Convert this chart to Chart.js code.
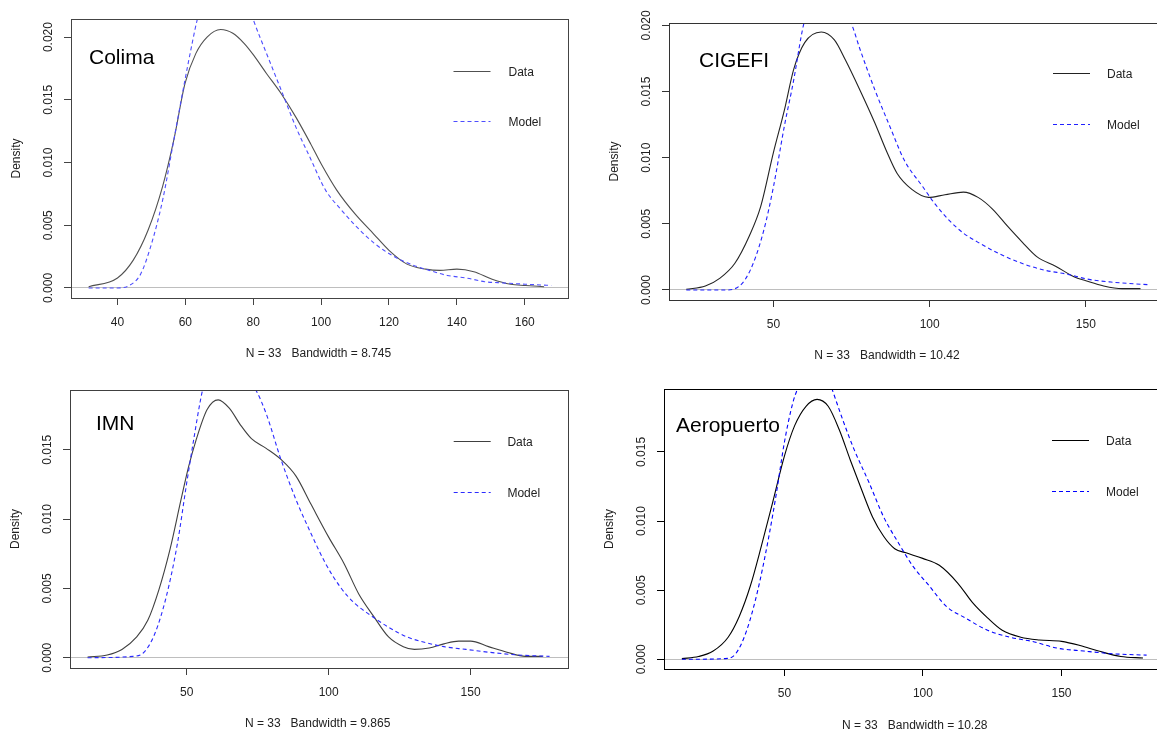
<!DOCTYPE html>
<html>
<head>
<meta charset="utf-8">
<script src="https://cdn.jsdelivr.net/npm/chart.js@4.4.1/dist/chart.umd.min.js"></script>
<style>
  html, body { margin: 0; padding: 0; background: #fff; overflow: hidden; }
  body { width: 1157px; height: 732px; position: relative; }
  canvas { position: absolute; }
</style>
</head>
<body>
<script>
// Colima
var colimaDataX = [31.5, 40, 44.6, 49, 53.3, 56.6, 59.9, 63.1, 66.4, 70.4, 74, 77.3, 80, 83.9, 88.2, 92.6, 96.9, 100, 104.6, 110, 115.5, 120, 125.3, 130.8, 135, 140, 145, 150.4, 155.8, 160.2, 165.7];
var colimaDataY = [0.0001, 0.0008, 0.0022, 0.0046, 0.0081, 0.0118, 0.0163, 0.0187, 0.0200, 0.0206, 0.0203, 0.0195, 0.0186, 0.0171, 0.0155, 0.0136, 0.0115, 0.0099, 0.0078, 0.0059, 0.0043, 0.0030, 0.0019, 0.0015, 0.0014, 0.0015, 0.0013, 0.0007, 0.0003, 0.0002, 0.0001];
var colimaModelX = [31.5, 40, 43.5, 46.8, 50, 53.3, 56.6, 59.9, 62, 63.5, 66, 70, 74, 77.5, 80, 83.9, 88.2, 92.6, 96.9, 101.3, 105.7, 110, 115.5, 120.9, 126.3, 131.9, 137.2, 142.7, 148.2, 153.6, 160.2, 167.8];
var colimaModelY = [0, 0, 0.0002, 0.0011, 0.0035, 0.0070, 0.0118, 0.0166, 0.0195, 0.0214, 0.0238, 0.0256, 0.0255, 0.0235, 0.0214, 0.0187, 0.0158, 0.0128, 0.0103, 0.0078, 0.0063, 0.0050, 0.0036, 0.0026, 0.0019, 0.0014, 0.0010, 0.0008, 0.0005, 0.0004, 0.0003, 0.0002];

// CIGEFI
var cigefiDataX = [22.1, 28.2, 32.9, 37.6, 42.3, 45.9, 50, 53.5, 56.5, 60, 65.3, 69.5, 73, 77.7, 82.5, 86, 89.6, 94.3, 99.6, 104.9, 110.8, 115.5, 120.2, 125, 129.7, 134.4, 140.3, 146.2, 150, 155.7, 161.6, 167.5];
var cigefiDataY = [0.00005, 0.0003, 0.0009, 0.0020, 0.0041, 0.0063, 0.0104, 0.0136, 0.0167, 0.0187, 0.0195, 0.0189, 0.0174, 0.0151, 0.0126, 0.0106, 0.0088, 0.0076, 0.0070, 0.0072, 0.0074, 0.0070, 0.0061, 0.0048, 0.0036, 0.0025, 0.0018, 0.0010, 0.0007, 0.0003, 0.0001, 0.0001];
var cigefiModelX = [22.1, 35.2, 40, 43.5, 47, 50, 53.5, 56.5, 58.9, 59.8, 62, 66, 70, 74.8, 77.7, 82.5, 87.2, 91.9, 97.8, 101.4, 106.1, 110.8, 115.5, 122.6, 129.7, 136.8, 143.9, 151, 158, 169.8];
var cigefiModelY = [0, 0, 0.0005, 0.0020, 0.0046, 0.0078, 0.0124, 0.0159, 0.0192, 0.0202, 0.0216, 0.0226, 0.0218, 0.0202, 0.0182, 0.0151, 0.0124, 0.0098, 0.0078, 0.0066, 0.0053, 0.0043, 0.0036, 0.0027, 0.0020, 0.0015, 0.0012, 0.0008, 0.0006, 0.0004];

// IMN
var imnDataX = [15.1, 22, 27.2, 32.4, 36.3, 40.2, 44.1, 48, 50.7, 53.3, 57.2, 61.1, 65, 68.9, 72.8, 78, 83.2, 88.5, 93.7, 100, 105.4, 110.6, 115.8, 121.1, 126.3, 130.2, 135.4, 140.6, 145.8, 150, 156.3, 162.8, 169.3, 175.4];
var imnDataY = [0.00005, 0.0002, 0.0006, 0.0015, 0.0027, 0.0049, 0.0078, 0.0114, 0.0138, 0.0157, 0.0179, 0.0186, 0.0180, 0.0168, 0.0158, 0.0151, 0.0143, 0.0131, 0.0111, 0.0087, 0.0068, 0.0046, 0.0030, 0.0015, 0.0008, 0.0006, 0.0007, 0.0010, 0.0012, 0.0012, 0.0008, 0.0004, 0.0001, 0.0001];
var imnModelX = [15.1, 31.1, 35, 38.9, 42.8, 46.7, 50, 52.6, 54.6, 55.6, 59, 64, 69, 74.4, 78, 83.2, 88.5, 93.7, 98.9, 104.1, 109.3, 114.5, 121.1, 127.6, 134.1, 140.6, 148.4, 156.3, 166.7, 177.8];
var imnModelY = [0, 0.0001, 0.0004, 0.0018, 0.0044, 0.0082, 0.0126, 0.0159, 0.0183, 0.0193, 0.0208, 0.0216, 0.0209, 0.0193, 0.0176, 0.0143, 0.0114, 0.0090, 0.0068, 0.0051, 0.0039, 0.0031, 0.0022, 0.0015, 0.0011, 0.0008, 0.0006, 0.0004, 0.0002, 0.0001];

// Aeropuerto
var aeroDataX = [13, 19, 24.3, 29.7, 33.7, 37.7, 41.7, 45.7, 50, 53.7, 57.8, 61.8, 65.8, 69.8, 73.8, 77.8, 81.8, 85.8, 89.8, 93.9, 99.9, 105.9, 112.6, 117.9, 123.3, 128.6, 135.3, 142, 150, 156.7, 163.4, 171.4, 179.4];
var aeroDataY = [0.00005, 0.0002, 0.0006, 0.0016, 0.0031, 0.0053, 0.0082, 0.0113, 0.0147, 0.0169, 0.0183, 0.0188, 0.0183, 0.0166, 0.0144, 0.0123, 0.0103, 0.0089, 0.0080, 0.0077, 0.0073, 0.0068, 0.0055, 0.0041, 0.0030, 0.0021, 0.0016, 0.0014, 0.0013, 0.0010, 0.0006, 0.0002, 0.0001];
var aeroModelX = [13, 28.3, 32.4, 36.4, 40.4, 44.4, 47.1, 50, 53.1, 54.8, 57.5, 61, 64.5, 67.1, 71.1, 75.1, 80.5, 85.8, 91.2, 96.5, 101.9, 108.6, 115.2, 123.3, 131.3, 139.3, 148.7, 158, 168.7, 180.7];
var aeroModelY = [0, 0.00005, 0.0004, 0.0021, 0.0050, 0.0089, 0.0120, 0.0157, 0.0186, 0.0196, 0.0210, 0.0217, 0.0211, 0.0196, 0.0173, 0.0152, 0.0128, 0.0103, 0.0084, 0.0067, 0.0054, 0.0038, 0.0030, 0.0021, 0.0016, 0.0013, 0.0008, 0.0006, 0.0004, 0.0003];

var ticks40 = [40, 60, 80, 100, 120, 140, 160];
var ticks50 = [50, 100, 150];
var yTicks20 = [0, 0.005, 0.010, 0.015, 0.020];
var yTicks15 = [0, 0.005, 0.010, 0.015];

var FONT = '"Liberation Sans", Arial, sans-serif';
Chart.defaults.font.family = FONT;
Chart.defaults.font.size = 12;
Chart.defaults.color = '#222';

function pts(xs, ys) {
    return xs.map(function (x, i) { return { x: x, y: ys[i] }; });
}

// box, axis frame and the texts that R puts inside the plot
var rFrame = {
    id: 'rFrame',
    afterDraw: function (chart, args, o) {
        var ctx = chart.ctx, a = chart.chartArea;
        ctx.save();
        ctx.strokeStyle = o.axisColor;
        ctx.lineWidth = 1;
        ctx.strokeRect(Math.round(a.left) + 0.5, Math.round(a.top) + 0.5,
            Math.round(a.right - a.left), Math.round(a.bottom - a.top));

        ctx.fillStyle = '#000';
        ctx.textBaseline = 'middle';
        ctx.textAlign = 'left';
        ctx.font = '21px ' + FONT;
        ctx.fillText(o.name, a.left + o.nameX, a.top + o.nameY);

        ctx.font = '12px ' + FONT;
        ctx.fillStyle = '#222';
        var sets = chart.data.datasets;
        var rows = [o.row1, o.row2];
        for (var i = 0; i < 2; i++) {
            var ds = sets[i];
            var y = Math.round(a.top + rows[i]) + 0.5;
            ctx.strokeStyle = ds.borderColor;
            ctx.lineWidth = 1.1;
            ctx.setLineDash(ds.borderDash || []);
            ctx.beginPath();
            ctx.moveTo(a.left + o.lineX, y);
            ctx.lineTo(a.left + o.lineX + 37, y);
            ctx.stroke();
            ctx.fillText(ds.label, a.left + o.textX, y + 1);
        }
        ctx.setLineDash([]);
        ctx.textAlign = 'center';
        ctx.fillText(o.note, a.left + o.noteX, a.bottom + o.noteY);
        ctx.restore();
    }
};

function makePanel(p) {
    var padL = 70, padT = 19, padR = 4, axisH = 64;
    var cv = document.createElement('canvas');
    var w = padL + (p.box.r - p.box.l) + padR;
    var h = padT + (p.box.b - p.box.t) + axisH;
    cv.width = w; cv.height = h;
    cv.style.width = w + 'px'; cv.style.height = h + 'px';
    cv.style.left = (p.box.l - padL) + 'px';
    cv.style.top = (p.box.t - padT) + 'px';
    document.body.appendChild(cv);

    new Chart(cv.getContext('2d'), {
        type: 'line',
        data: {
            datasets: [{
                label: 'Data',
                data: pts(p.dataX, p.dataY),
                borderColor: p.dataColor,
                borderWidth: 1.1,
                pointRadius: 0,
                cubicInterpolationMode: 'monotone',
                order: 1
            }, {
                label: 'Model',
                data: pts(p.modelX, p.modelY),
                borderColor: p.modelColor,
                borderWidth: 1.1,
                borderDash: [4, 3],
                pointRadius: 0,
                cubicInterpolationMode: 'monotone',
                order: 0
            }]
        },
        options: {
            responsive: false,
            animation: false,
            events: [],
            layout: { padding: { top: padT, right: padR, left: 0, bottom: 0 } },
            scales: {
                x: {
                    type: 'linear',
                    min: p.xMin,
                    max: p.xMax,
                    afterBuildTicks: function (s) { s.ticks = p.xTicks.map(function (v) { return { value: v }; }); },
                    afterFit: function (s) { s.height = axisH; },
                    border: { display: false },
                    grid: { drawOnChartArea: false, tickLength: 7, tickColor: p.axisColor },
                    ticks: { autoSkip: false, maxRotation: 0, padding: 10, color: '#222' }
                },
                y: {
                    type: 'linear',
                    min: p.yMin,
                    max: p.yMax,
                    afterBuildTicks: function (s) { s.ticks = p.yTicks.map(function (v) { return { value: v }; }); },
                    afterFit: function (s) { s.width = padL; },
                    border: { display: false },
                    grid: {
                        tickLength: 7,
                        tickColor: p.axisColor,
                        color: function (c) { return c.tick && c.tick.value === 0 ? '#bebebe' : 'rgba(0,0,0,0)'; }
                    },
                    ticks: {
                        autoSkip: false,
                        minRotation: 90,
                        maxRotation: 90,
                        crossAlign: 'center',
                        padding: 0,
                        color: '#222',
                        callback: function (v) { return v.toFixed(3); }
                    },
                    title: { display: true, text: 'Density', color: '#222', padding: { top: 8, bottom: 0 } }
                }
            },
            plugins: {
                legend: { display: false },
                tooltip: { enabled: false },
                rFrame: {
                    axisColor: p.axisColor, name: p.name, nameX: p.nameX, nameY: p.nameY,
                    lineX: p.lineX, textX: p.textX, row1: p.row1, row2: p.row2,
                    note: p.note, noteX: p.noteX, noteY: p.noteY
                }
            }
        },
        plugins: [rFrame]
    });
}

makePanel({
    box: { l: 71, t: 19, r: 568, b: 298 },
    xMin: 26.3, xMax: 172.75, yMin: -0.0008, yMax: 0.02144,
    xTicks: ticks40, yTicks: yTicks20,
    dataX: colimaDataX, dataY: colimaDataY, modelX: colimaModelX, modelY: colimaModelY,
    dataColor: '#505050', modelColor: '#4d4dff', axisColor: '#444',
    name: 'Colima', nameX: 18, nameY: 39,
    lineX: 382.5, textX: 437.5, row1: 51.5, row2: 101.5,
    note: 'N = 33   Bandwidth = 8.745', noteX: 247.5, noteY: 56
});

makePanel({
    box: { l: 669, t: 23, r: 1158, b: 300 },
    xMin: 16.56, xMax: 173.1, yMin: -0.000757, yMax: 0.02018,
    xTicks: ticks50, yTicks: yTicks20,
    dataX: cigefiDataX, dataY: cigefiDataY, modelX: cigefiModelX, modelY: cigefiModelY,
    dataColor: '#222', modelColor: '#2020ff', axisColor: '#333',
    name: 'CIGEFI', nameX: 30, nameY: 38,
    lineX: 384, textX: 438, row1: 50, row2: 101,
    note: 'N = 33   Bandwidth = 10.42', noteX: 218, noteY: 56
});

makePanel({
    box: { l: 70, t: 390, r: 568, b: 668 },
    xMin: 8.9, xMax: 184.3, yMin: -0.00074, yMax: 0.01931,
    xTicks: ticks50, yTicks: yTicks15,
    dataX: imnDataX, dataY: imnDataY, modelX: imnModelX, modelY: imnModelY,
    dataColor: '#404040', modelColor: '#2b2bff', axisColor: '#404040',
    name: 'IMN', nameX: 26, nameY: 34,
    lineX: 383.7, textX: 437.4, row1: 50.7, row2: 101.7,
    note: 'N = 33   Bandwidth = 9.865', noteX: 247.6, noteY: 56
});

makePanel({
    box: { l: 664, t: 389, r: 1161, b: 669 },
    xMin: 6.55, xMax: 185.9, yMin: -0.0007, yMax: 0.01955,
    xTicks: ticks50, yTicks: yTicks15,
    dataX: aeroDataX, dataY: aeroDataY, modelX: aeroModelX, modelY: aeroModelY,
    dataColor: '#000', modelColor: '#0000ff', axisColor: '#000',
    name: 'Aeropuerto', nameX: 12, nameY: 37,
    lineX: 388, textX: 442, row1: 51, row2: 102,
    note: 'N = 33   Bandwidth = 10.28', noteX: 250.8, noteY: 57
});
</script>
</body>
</html>
